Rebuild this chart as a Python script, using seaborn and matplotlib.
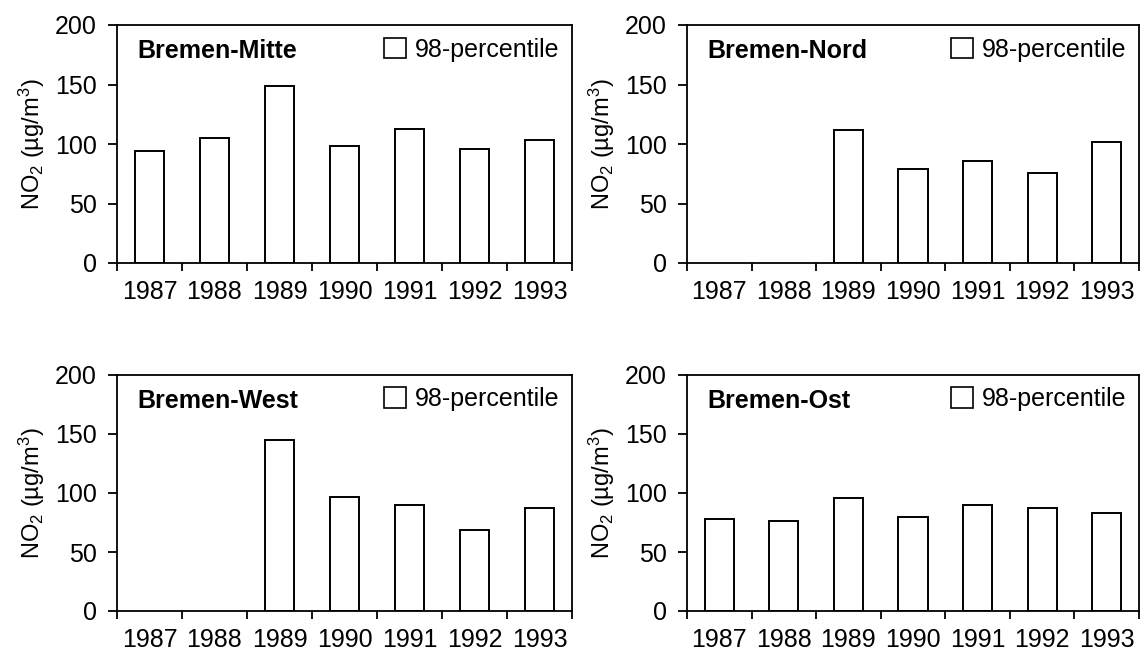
import numpy as np
import pandas as pd
import matplotlib
matplotlib.use("Agg")
import matplotlib.pyplot as plt
from matplotlib.patches import Patch
import seaborn as sns

years = ["1987", "1988", "1989", "1990", "1991", "1992", "1993"]
stations = ["Bremen-Mitte", "Bremen-Nord", "Bremen-West", "Bremen-Ost"]

mitte = [94, 105, 149, 98, 113, 96, 103]
nord = [np.nan, np.nan, 112, 79, 86, 76, 102]
west = [np.nan, np.nan, 145, 97, 90, 69, 87]
ost = [78, 76, 96, 80, 90, 87, 83]

yticks = [0, 50, 100, 150, 200]
legend_label = "98-percentile"
ylabel = "NO$_2$ (µg/m$^3$)"

sns.set_style("white")
plt.rcParams["font.family"] = ["Liberation Sans", "DejaVu Sans"]
plt.rcParams["mathtext.fontset"] = "custom"
plt.rcParams["mathtext.rm"] = "Liberation Sans"
plt.rcParams["mathtext.it"] = "Liberation Sans:italic"
plt.rcParams["text.color"] = "black"
plt.rcParams["axes.labelcolor"] = "black"
plt.rcParams["xtick.color"] = "black"
plt.rcParams["ytick.color"] = "black"

W, H = 1142, 655
fig = plt.figure(figsize=(W / 100, H / 100), dpi=100)

# axes boxes in pixels: left, top, right, bottom
boxes = [(117, 25, 572, 263), (687, 25, 1139, 263),
         (117, 375, 572, 611), (687, 375, 1139, 611)]

for name, values, (l, t, r, b) in zip(stations, [mitte, nord, west, ost], boxes):
    ax = fig.add_axes([l / W, 1 - b / H, (r - l) / W, (b - t) / H])
    df = pd.DataFrame({"year": years, "value": values}).dropna()
    sns.barplot(data=df, x="year", y="value", order=years, ax=ax,
                color="white", edgecolor="black", linewidth=1.4, width=0.45,
                saturation=1)
    ax.set_xlim(-0.5, len(years) - 0.5)
    ax.set_ylim(0, 200)
    ax.set_yticks(yticks)
    ax.set_xticks(np.arange(len(years)))
    ax.set_xticklabels(years)
    ax.set_xticks(np.arange(len(years) + 1) - 0.5, minor=True)
    ax.tick_params(axis="x", which="major", bottom=True, length=0, pad=12, labelsize=18)
    ax.tick_params(axis="x", which="minor", bottom=True, length=6, width=1.3, direction="out")
    ax.tick_params(axis="y", left=True, length=6.5, width=1.3, direction="out", pad=8, labelsize=18)
    for s in ax.spines.values():
        s.set_visible(True)
        s.set_color("black")
        s.set_linewidth(1.3)
    ax.set_xlabel("")
    ax.set_ylabel(ylabel, fontsize=17, labelpad=6)
    ax.text(0.045, 0.89, name, transform=ax.transAxes, fontsize=18,
            fontweight="bold", va="center", ha="left")
    handle = Patch(facecolor="white", edgecolor="black", linewidth=1.2)
    ax.legend([handle], [legend_label], loc="upper right", frameon=False,
              fontsize=18, handlelength=0.9, handleheight=0.9,
              handletextpad=0.35, borderaxespad=0.2, borderpad=0.3)

fig.savefig("out.png", dpi=100, facecolor="white")
